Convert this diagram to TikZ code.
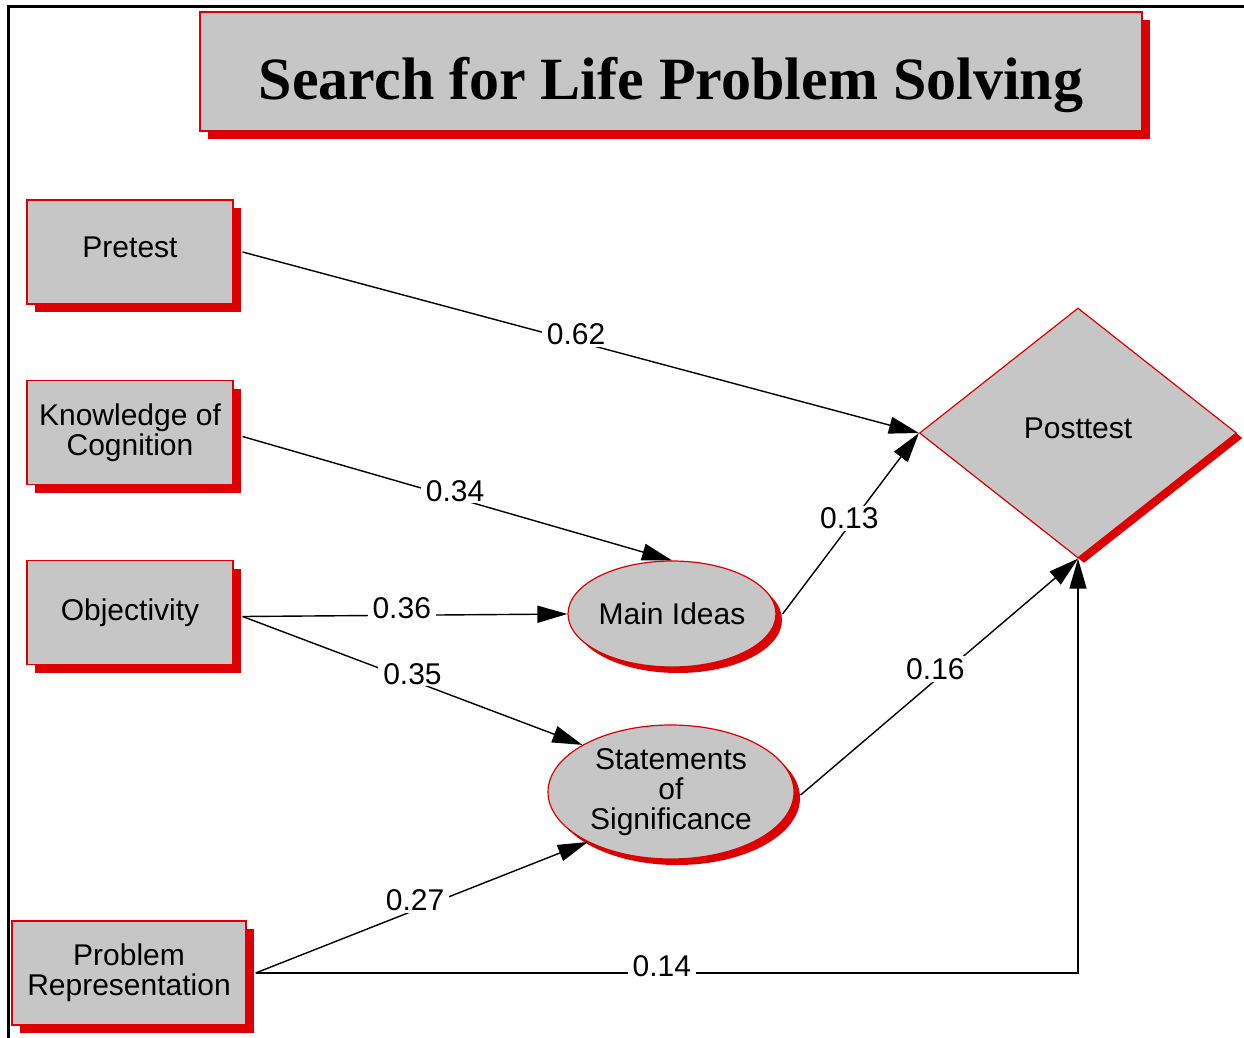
\documentclass[tikz,border=0pt]{standalone}
\usepackage{fontspec}
\setmainfont{Liberation Sans}
\newfontfamily\titlefont{Liberation Serif}
\usetikzlibrary{arrows.meta,shapes.geometric,shadows}
\definecolor{boxgray}{RGB}{198,198,198}
\definecolor{shred}{RGB}{222,0,0}
\newcommand\lblfont{\fontsize{30}{30}\selectfont}
\tikzset{
  redshadow/.style={drop shadow={shadow xshift=#1, shadow yshift=-#1, fill=shred, opacity=1}},
  varbox/.style={rectangle, draw=shred, line width=1.2pt, fill=boxgray,
    minimum width=206pt, minimum height=104pt, inner sep=0pt, align=center,
    font=\lblfont, redshadow=8pt},
  latent/.style={ellipse, draw=shred, line width=1.2pt, fill=boxgray,
    inner sep=0pt, align=center, font=\lblfont, redshadow=6pt},
  conn/.style={line width=1.4pt, -{Triangle[length=30pt,width=17pt]}},
  lbl/.style={fill=white, inner xsep=5pt, inner ysep=2pt, font=\lblfont, yshift=7pt},
  frame/.style={line width=3pt}
}
\begin{document}
\begin{tikzpicture}[x=1pt,y=-1pt]
\useasboundingbox (0,0) rectangle (1244,1038);
% frame
\draw[frame] (8,1038) -- (8,7) -- (1244,7);
% title
\node[rectangle, draw=shred, line width=1.2pt, fill=boxgray, minimum width=942pt,
  minimum height=119pt, inner sep=0pt, redshadow=8pt,
  font=\titlefont\bfseries\fontsize{60}{60}\selectfont, text height=57pt, text depth=0pt]
  (title) at (671,71.5) {Search for Life Problem Solving};
% observed variables
\node[varbox, text depth=10pt] (pre) at (130,252) {Pretest};
\node[varbox] (kno) at (130,432.5) {Knowledge of\\Cognition};
\node[varbox] (obj) at (130,612.5) {Objectivity};
\node[varbox, minimum width=234pt] (pr) at (129,973) {Problem\\Representation};
% latent
\node[latent, minimum width=208pt, minimum height=106pt] (main) at (672,614) {Main Ideas};
\node[latent, minimum width=246pt, minimum height=134pt] (stmt) at (671,792) {Statements\\of\\Significance};
% outcome
\node[diamond, draw=shred, line width=1.2pt, fill=boxgray, minimum width=317pt,
  minimum height=250pt, inner sep=0pt, font=\lblfont, text depth=10pt,
  drop shadow={shadow xshift=6pt, shadow yshift=-5pt, fill=shred, opacity=1}]
  (post) at (1078,433) {Posttest};
% connectors
\draw[conn] ([xshift=9pt]pre.east) -- node[lbl, pos=0.493] {0.62} (post.west);
\draw[conn] ([xshift=9pt,yshift=-4pt]kno.east) -- node[lbl, pos=0.495] {0.34} (main.north);
\draw[conn] ([xshift=9pt,yshift=-4pt]obj.east) -- node[lbl, pos=0.49] {0.36} (main.west);
\draw[conn] ([xshift=9pt,yshift=-4pt]obj.east) -- node[lbl, pos=0.5] {0.35} (stmt.152);
\draw[conn] ([xshift=6pt]main.east) -- node[lbl, pos=0.49] {0.13} (post.west);
\draw[conn] ([xshift=6pt,yshift=-3pt]stmt.east) -- node[lbl, pos=0.486, yshift=4pt] {0.16} (post.south);
\draw[conn] ([xshift=9pt]pr.east) -- node[lbl, pos=0.48, yshift=3pt] {0.27} (stmt.211);
\draw[conn] ([xshift=9pt]pr.east) -| node[lbl, pos=0.247] {0.14} (post.south);
\end{tikzpicture}
\end{document}
